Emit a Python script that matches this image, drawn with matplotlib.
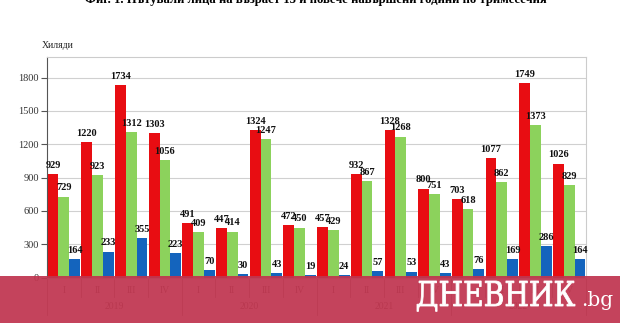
import matplotlib.pyplot as plt
from matplotlib.patches import Rectangle, PathPatch
from matplotlib.textpath import TextPath
from matplotlib.font_manager import FontProperties
from matplotlib.transforms import Affine2D
import numpy as np

# Data (thousands), by quarter 2019-2022
years = ['2019', '2020', '2021', '2022']
quarters = ['I', 'II', 'III', 'IV']
red_vals = [929, 1220, 1734, 1303, 491, 447, 1324, 472,
            457, 932, 1328, 800, 703, 1077, 1749, 1026]
green_vals = [729, 923, 1312, 1056, 409, 414, 1247, 450,
              429, 867, 1268, 751, 618, 862, 1373, 829]
blue_vals = [164, 233, 355, 223, 70, 30, 43, 19,
             24, 57, 53, 43, 76, 169, 286, 164]

W, H = 620, 323
fig = plt.figure(figsize=(W / 100, H / 100), dpi=100)
serif = ['Liberation Serif', 'DejaVu Serif']

left, right, top, zero = 47, 586, 57, 277.5
ax = fig.add_axes([left / W, (H - zero) / H, (right - left) / W, (zero - top) / H])

x = np.arange(len(red_vals))
bw = 0.32
colors = ['#e80d12', '#8cd25c', '#1464bd']
for off, vals, c in zip([-bw, 0, bw], [red_vals, green_vals, blue_vals], colors):
    bars = ax.bar(x + off, vals, bw, color=c, zorder=3)
    for b, v in zip(bars, vals):
        ax.annotate(str(v), (b.get_x() + b.get_width() / 2, v),
                    xytext=(0, 3), textcoords='offset points',
                    ha='center', va='bottom', fontsize=7.5, fontweight='bold',
                    family=serif, color='#111111', zorder=4)

ax.set_xlim(-0.5, len(red_vals) - 0.5)
ax.set_ylim(0, 1985)
ax.set_yticks(range(0, 1801, 300))
ax.set_yticklabels([str(v) for v in range(0, 1801, 300)], family=serif,
                   fontsize=7.5, color='#333333')
ax.tick_params(axis='y', length=4, width=0.8, color='#555555', pad=2)
ax.set_xticks([])
ax.grid(axis='y', color='#d0d0d0', linewidth=0.8, zorder=0)
for s in ['top', 'right', 'bottom']:
    ax.spines[s].set_color('#cccccc')
ax.spines['left'].set_color('#555555')

# category axis labels (mostly hidden under the banner)
for i in range(len(red_vals)):
    ax.text(i, -0.06, quarters[i % 4], transform=ax.get_xaxis_transform(),
            ha='center', va='center', fontsize=7, family=serif, color='#555555',
            clip_on=False)
for j, y in enumerate(years):
    ax.text(4 * j + 1.5, -0.13, y, transform=ax.get_xaxis_transform(),
            ha='center', va='center', fontsize=7, family=serif, color='#555555',
            clip_on=False)
for i in range(len(red_vals) + 1):
    depth = -0.17 if i % 4 == 0 else -0.09
    ax.plot([i - 0.5, i - 0.5], [0, depth], transform=ax.get_xaxis_transform(),
            color='#888888', linewidth=0.6, clip_on=False)

ax.text(-0.01, 1.03, 'Хиляди', transform=ax.transAxes, ha='left', va='bottom',
        fontsize=7, family=serif, color='#222222')

# title, cut off by the top edge as in the source
fig.text(316 / W, 1 - 2.5 / H,
         'Фиг. 1. Пътували лица на възраст 15 и повече навършени години по тримесечия',
         ha='center', va='baseline', fontsize=9.2, fontweight='bold', family=serif)

# watermark banner
fig.add_artist(Rectangle((0, 0), 1, (H - 276) / H, transform=fig.transFigure,
                         facecolor='#c0354f', alpha=0.93, edgecolor='none', zorder=10))

# logo word squeezed into its box: x 417..575 px, caps 281..306 px
prop = FontProperties(family='DejaVu Serif')
word = TextPath((0, 0), 'ДНЕВНИК', size=10, prop=prop)
cap = TextPath((0, 0), 'Н', size=10, prop=prop).get_extents().ymax
ext = word.get_extents()
sx = (575 - 417) / ext.width
sy = (306 - 281) / cap
tr = Affine2D().translate(-ext.xmin, 0).scale(sx / W, sy / H) \
    .translate(417 / W, (H - 306) / H) + fig.transFigure
fig.add_artist(PathPatch(word, transform=tr, facecolor='white',
                         edgecolor='white', linewidth=0.6, zorder=11))
fig.text(613 / W, (H - 306) / H, '.bg', ha='right', va='baseline', fontsize=14.5,
         family='DejaVu Serif', color='white', zorder=11)

fig.savefig('out.png', dpi=100)
